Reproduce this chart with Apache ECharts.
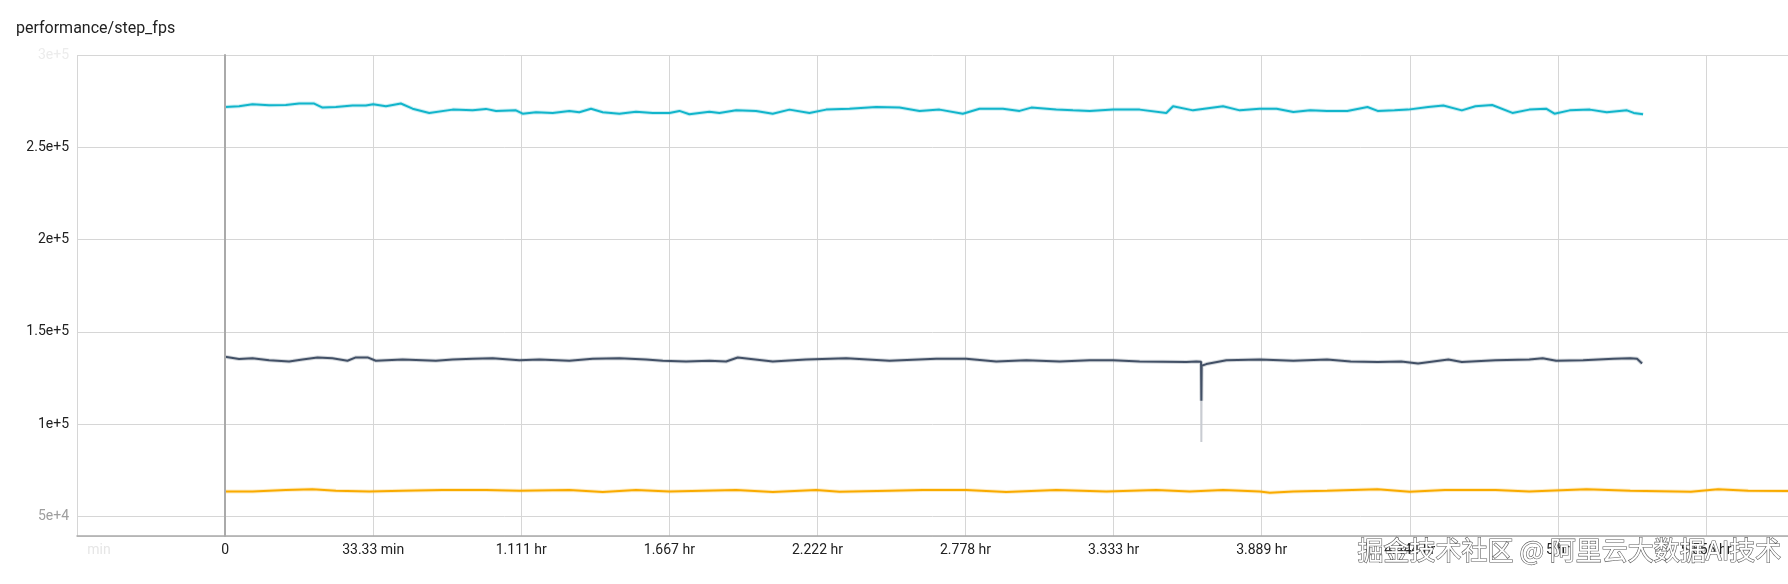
<!DOCTYPE html>
<html>
<head>
<meta charset="utf-8">
<script src="https://cdn.jsdelivr.net/npm/echarts@6/dist/echarts.min.js"></script>
<style>
html,body{margin:0;padding:0;background:#fff;}
#c{width:1788px;height:584px;}
</style>
</head>
<body>
<div id="c"></div>
<script>
// ---- data (time in seconds, value in steps/s) ----
const chartTitle = 'performance/step_fps';
const watermarkText = '掘金技术社区 @ 阿里云大数据AI技术';

const tCyan = [0,189,370,595,820,1000,1203,1316,1496,1721,1901,2000,2172,2374,2532,2757,3073,3343,3523,3658,3928,4019,4199,4424,4649,4784,4942,5100,5325,5550,5776,6001,6136,6271,6541,6676,6901,7171,7397,7622,7892,8117,8433,8793,9108,9379,9649,9964,10190,10505,10730,10888,11226,11451,11676,11992,12352,12712,12803,13073,13478,13704,13973,14201,14428,14656,14883,15156,15429,15566,15793,15975,16248,16453,16703,16885,17113,17386,17613,17841,17954,18159,18432,18660,18933,19024,19151];
const vCyan = [271800,272200,273300,272800,272900,273700,273700,271500,271800,272600,272600,273300,272200,273700,270900,268600,270400,270000,270800,269700,270000,268200,269000,268600,269700,269000,270900,269000,268200,269300,268600,268600,269700,267900,269300,268600,270000,269700,268200,270400,268600,270400,270900,271800,271500,269700,270400,268200,270900,270900,269700,271500,270400,270000,269700,270400,270400,268600,272200,270000,272200,270000,270900,270900,269100,270000,269700,269700,271800,269700,270000,270400,271800,272600,270000,272200,272900,268600,270400,270900,268200,270000,270400,269000,270000,268600,267900];

const tSlate = [0,189,370,595,865,1045,1248,1451,1653,1766,1924,2036,2397,2847,3073,3343,3613,3974,4244,4649,4965,5325,5685,5911,6226,6541,6767,6924,7397,7847,8388,8973,9604,10009,10415,10820,11271,11676,11992,12352,12983,13118,13181,13185,13189,13253,13523,13974,14428,14883,15202,15566,15884,16112,16521,16703,17158,17613,17795,17977,18341,18751,18978,19069,19137];
const vSlate = [136500,135200,135700,134600,133900,135000,136100,135600,134300,136100,136100,134300,135000,134300,135000,135400,135700,134600,135000,134300,135400,135700,135000,134300,133900,134300,133900,136100,133900,135000,135700,134300,135400,135400,133900,134600,133900,134600,134600,133900,133600,133900,133800,112600,131600,132500,134600,135000,134300,135000,133900,133600,133900,132800,135000,133600,134600,135000,135700,134300,134600,135400,135700,135400,132800];

// faded raw points around the dip
const tSlateRaw = [13181,13185,13189];
const vSlateRaw = [133800,90300,133800];

const tYellow = [0,370,820,1180,1496,1946,2397,2937,3523,3974,4649,5100,5550,6001,6451,6901,7397,7982,8298,8973,9424,10009,10550,11226,11902,12577,13028,13478,13974,14110,14428,14883,15566,15998,16476,17158,17613,18387,18978,19797,20161,20571,21108];
const vYellow = [63500,63500,64200,64600,63900,63500,63900,64200,64200,63900,64200,63200,64200,63500,63900,64200,63200,64200,63300,63900,64200,64200,63200,64200,63500,64200,63500,64200,63500,62800,63500,63900,64600,63300,64200,64200,63500,64600,63900,63300,64600,63900,63700];

// ---- helpers ----
const pairs = (t, v) => t.map((x, i) => [x, v[i]]);
function fmtTime(s) {
  if (s === 0) return '0';
  if (Math.abs(s) < 3600) return Number((s / 60).toPrecision(4)) + ' min';
  return Number((s / 3600).toPrecision(4)) + ' hr';
}
const FONT = 'Roboto, "Noto Sans", sans-serif';

const chart = echarts.init(document.getElementById('c'), null, {renderer: 'canvas'});

function line(name, data, color, z) {
  return {
    name, type: 'line', data, showSymbol: false, symbol: 'none', z: z,
    lineStyle: {color: color, width: 2}, itemStyle: {color: color},
    silent: true, animation: false, sampling: false
  };
}
function halo(name, data, color, z) {
  return {
    name: name + '_halo', type: 'line', data, showSymbol: false, symbol: 'none', z: z,
    lineStyle: {color: color, width: 4, opacity: 0.22}, itemStyle: {color: color},
    silent: true, animation: false
  };
}

const option = {
  backgroundColor: '#fff',
  animation: false,
  title: {
    text: chartTitle, left: 11, top: 16,
    textStyle: {fontSize: 16, fontWeight: 'normal', color: '#212121', fontFamily: FONT}
  },
  grid: {left: 77, right: 0, top: 55, bottom: 48, containLabel: false},
  xAxis: {
    type: 'value', min: -2000, max: 21108, interval: 2000,
    axisLine: {show: true, lineStyle: {color: '#aaa', width: 1.5}},
    axisTick: {show: false},
    splitLine: {show: true, lineStyle: {color: '#d6d6d6', width: 1}},
    axisLabel: {
      showMaxLabel: false, margin: 7, fontSize: 14, fontFamily: FONT, color: '#212121',
      formatter: function (v) { return v < 0 ? '{f|min}' : fmtTime(v); },
      rich: {f: {color: '#e6e6e6', fontSize: 14, fontFamily: FONT, padding: [0, 0, 0, 44]}}
    }
  },
  yAxis: {
    type: 'value', min: 39330, max: 300000, splitNumber: 5,
    axisLine: {show: true, lineStyle: {color: '#aaa', width: 2}},
    axisTick: {show: false},
    splitLine: {show: true, lineStyle: {color: '#d6d6d6', width: 1}},
    axisLabel: {
      showMinLabel: false, margin: 8, fontSize: 14, fontFamily: FONT,
      color: function (v) {
        v = Number(v);
        if (v >= 300000) return '#ececec';
        if (v <= 50000) return '#9e9e9e';
        return '#212121';
      },
      formatter: function (v) { return Number(v).toExponential(); }
    }
  },
  series: [
    halo('cyan', pairs(tCyan, vCyan), '#12b5cb', 2),
    halo('slate', pairs(tSlate, vSlate), '#425066', 2),
    halo('yellow', pairs(tYellow, vYellow), '#f9ab00', 2),
    {
      name: 'slate_raw', type: 'line', data: pairs(tSlateRaw, vSlateRaw), showSymbol: false, z: 2,
      lineStyle: {color: '#c9ccd2', width: 2}, silent: true, animation: false
    },
    Object.assign(line('cyan', pairs(tCyan, vCyan), '#12b5cb', 3), {
      markLine: {
        silent: true, symbol: 'none', label: {show: false}, animation: false,
        lineStyle: {color: '#aaa', width: 2, type: 'solid'},
        data: [{xAxis: 0}]
      }
    }),
    line('slate', pairs(tSlate, vSlate), '#425066', 3),
    line('yellow', pairs(tYellow, vYellow), '#f9ab00', 3)
  ],
  graphic: [{
    type: 'text', left: 1357, top: 537, z: 100, silent: true,
    style: {
      text: watermarkText, fontSize: 26, fontFamily: '"Noto Sans CJK SC", sans-serif',
      fill: '#ffffff', stroke: '#5a5a5a', lineWidth: 1.2,
      shadowColor: 'rgba(0,0,0,0.35)', shadowBlur: 2, shadowOffsetX: 1, shadowOffsetY: 1
    }
  }]
};
chart.setOption(option);
</script>
</body>
</html>
